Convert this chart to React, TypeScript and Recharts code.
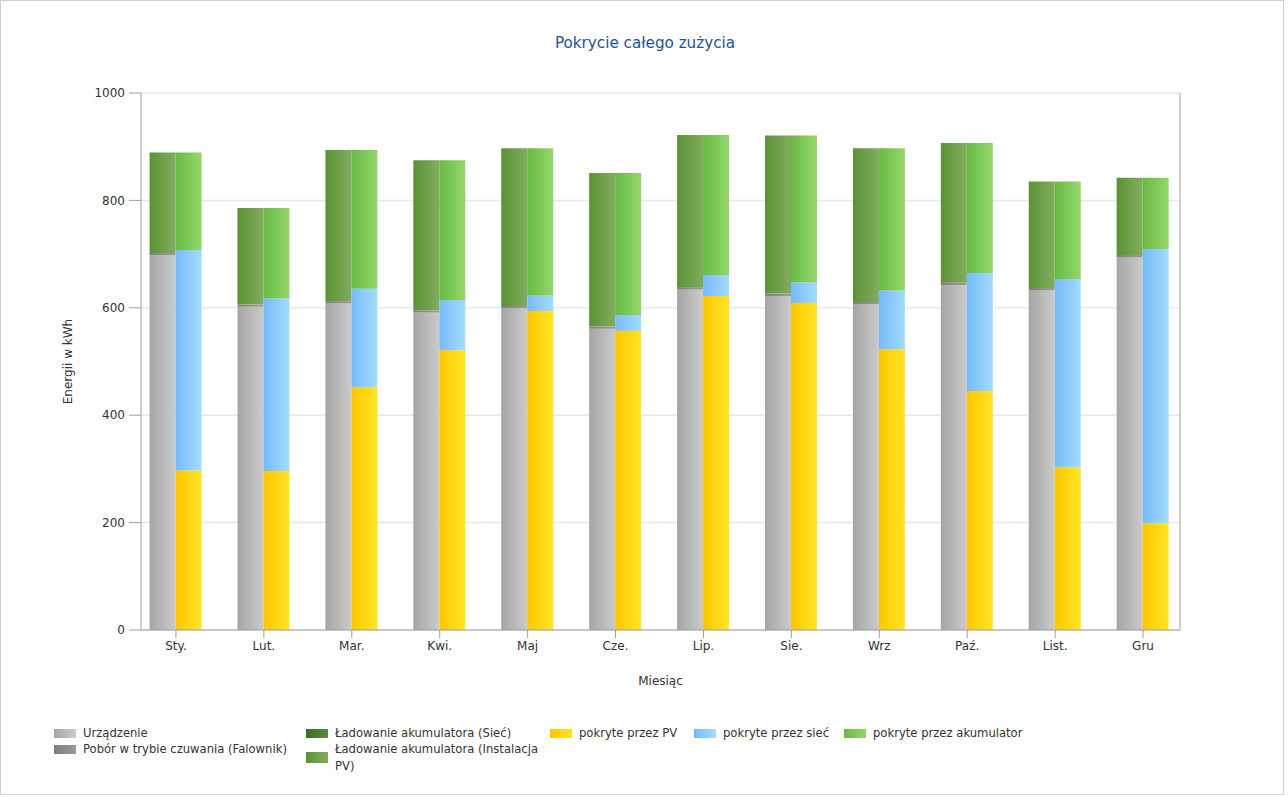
import React from 'react';
import { ComposedChart, Bar, XAxis, YAxis, CartesianGrid, Legend } from 'recharts';

const months = ['Sty.', 'Lut.', 'Mar.', 'Kwi.', 'Maj', 'Cze.', 'Lip.', 'Sie.', 'Wrz', 'Paź.', 'List.', 'Gru'];

// Left stack (consumption)
const urzadzenie = [697.5, 602, 608, 591, 599, 561, 634, 622, 607, 642, 633, 694];
const czuwanie = [4.5, 4, 4.5, 4, 4.5, 4, 4.5, 4.5, 4, 4.5, 4, 4.5];
const ladowanieSiec = [0, 0, 0, 0, 0, 0, 0, 0, 0, 0, 0, 0];
const ladowaniePV = [187, 180, 281.5, 280, 293.5, 286, 283.5, 294.5, 286, 260.5, 198, 143.5];

// Right stack (coverage)
const pokrytePV = [297, 296, 452, 521, 594, 557, 622, 609, 523, 445, 303, 199];
const pokryteSiec = [410.5, 322, 183.5, 93.5, 29, 29.5, 39, 38, 109, 220, 350.5, 510.5];
const pokryteAkumulator = [181.5, 168, 258.5, 260.5, 274, 264.5, 261, 274, 265, 242, 181.5, 132.5];

const yTicks = [0, 200, 400, 600, 800, 1000];

const data = months.map((m, i) => ({
  month: m,
  urz: urzadzenie[i],
  czuw: czuwanie[i],
  ladSiec: ladowanieSiec[i],
  ladPV: ladowaniePV[i],
  pokPV: pokrytePV[i],
  pokSiec: pokryteSiec[i],
  pokAku: pokryteAkumulator[i],
}));

const FONT = '"DejaVu Sans", Verdana, sans-serif';

const series = [
  { key: 'urz', name: 'Urządzenie', stack: 'a', c1: '#a5a5a5', c2: '#cbcbcb', lx: 54, ly: 11 },
  { key: 'czuw', name: 'Pobór w trybie czuwania (Falownik)', stack: 'a', c1: '#7e7e7e', c2: '#9c9c9c', lx: 54, ly: 27 },
  { key: 'ladSiec', name: 'Ładowanie akumulatora (Sieć)', stack: 'a', c1: '#3b6a25', c2: '#5b8c3f', lx: 306, ly: 11 },
  { key: 'ladPV', name: 'Ładowanie akumulatora (Instalacja PV)', stack: 'a', c1: '#5a9234', c2: '#82ad60', lx: 306, ly: 27, wrap: 215 },
  { key: 'pokPV', name: 'pokryte przez PV', stack: 'b', c1: '#ffc600', c2: '#ffe526', lx: 550, ly: 11 },
  { key: 'pokSiec', name: 'pokryte przez sieć', stack: 'b', c1: '#76b9f8', c2: '#a3defd', lx: 694, ly: 11 },
  { key: 'pokAku', name: 'pokryte przez akumulator', stack: 'b', c1: '#68b943', c2: '#95d76c', lx: 844, ly: 11 },
];

const renderLegend = () => (
  <div style={{ position: 'relative', width: '100%', height: '100%', fontFamily: FONT, fontSize: 11.6, color: '#333' }}>
    {series.map((s) => {
      const multi = !!s.wrap;
      return (
        <div key={s.key} style={{ position: 'absolute', left: s.lx, top: s.ly - 8, display: 'flex', alignItems: 'center' }}>
          <div
            style={{
              width: 22,
              height: multi ? 11 : 9,
              background: `linear-gradient(to right, ${s.c1}, ${s.c2})`,
              marginRight: 7,
              flex: 'none',
            }}
          />
          <div style={{ lineHeight: '16.5px', width: s.wrap, whiteSpace: multi ? 'normal' : 'nowrap' }}>{s.name}</div>
        </div>
      );
    })}
  </div>
);

export default function App() {
  return (
    <div style={{ position: 'absolute', left: 0, top: 0, width: 1288, height: 797, background: '#fff', fontFamily: FONT }}>
      <div style={{ position: 'absolute', left: 0, top: 0, width: 1284, height: 795, border: '1px solid #cfcfcf', boxSizing: 'border-box' }} />
      <div
        style={{
          position: 'absolute',
          left: 0,
          top: 34,
          width: 1290,
          textAlign: 'center',
          fontSize: 15.2,
          color: '#1f5294',
          fontFamily: FONT,
        }}
      >
        Pokrycie całego zużycia
      </div>
      <div style={{ position: 'absolute', left: 0, top: 0 }}>
        <ComposedChart
          width={1288}
          height={797}
          data={data}
          margin={{ top: 93, right: 48, bottom: 47, left: 0 }}
          barCategoryGap="20%"
          barGap={0}
        >
          <defs>
            {series.map((s) => (
              <linearGradient key={s.key} id={`g-${s.key}`} x1="0" y1="0" x2="1" y2="0">
                <stop offset="0%" stopColor={s.c1} />
                <stop offset="100%" stopColor={s.c2} />
              </linearGradient>
            ))}
          </defs>
          <CartesianGrid yAxisId="left" vertical={false} stroke="#e8e8e8" strokeWidth={1.5} />
          <XAxis
            dataKey="month"
            height={60}
            padding={{ left: -9, right: -7 }}
            tickSize={8}
            tickMargin={3}
            axisLine={{ stroke: '#a0a0a0' }}
            tickLine={{ stroke: '#a0a0a0' }}
            tick={{ fill: '#333', fontSize: 12, fontFamily: FONT }}
            interval={0}
            label={{ value: 'Miesiąc', position: 'insideBottom', offset: 5, fill: '#333', fontSize: 12, fontFamily: FONT }}
          />
          <YAxis
            yAxisId="left"
            width={141}
            domain={[0, 1000]}
            ticks={yTicks}
            tickSize={12}
            tickMargin={4}
            axisLine={{ stroke: '#a0a0a0' }}
            tickLine={{ stroke: '#a0a0a0' }}
            tick={{ fill: '#333', fontSize: 12, fontFamily: FONT }}
            label={{ value: 'Energii w kWh', angle: -90, position: 'center', dx: -3, fill: '#333', fontSize: 12, fontFamily: FONT }}
          />
          <YAxis
            yAxisId="right"
            orientation="right"
            width={60}
            domain={[0, 1000]}
            ticks={yTicks}
            tickSize={13}
            tickMargin={2}
            axisLine={{ stroke: '#a0a0a0' }}
            tickLine={{ stroke: '#a0a0a0' }}
            tick={{ fill: '#333', fontSize: 12, fontFamily: FONT }}
          />
          <Legend
            content={renderLegend}
            wrapperStyle={{ top: 722, left: 0, bottom: 'auto', width: 1288, height: 60 }}
          />
          {series.map((s) => (
            <Bar
              key={s.key}
              yAxisId="left"
              dataKey={s.key}
              name={s.name}
              stackId={s.stack}
              fill={`url(#g-${s.key})`}
              isAnimationActive={false}
            />
          ))}
        </ComposedChart>
      </div>
    </div>
  );
}
